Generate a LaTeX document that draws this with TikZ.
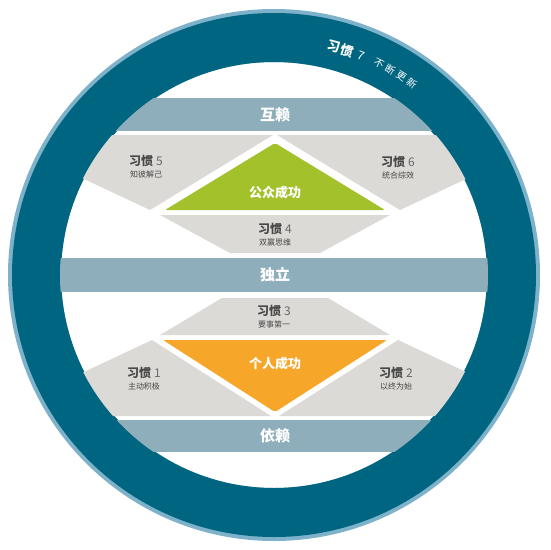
\documentclass[tikz,border=0pt]{standalone}
\usepackage{fontspec}
\usepackage{xcolor}
\usepackage{tikz}
\usetikzlibrary{positioning,calc}
\newfontfamily\cjk{Noto Sans CJK SC}
\definecolor{ringBlue}{RGB}{0,101,129}
\definecolor{rimBlue}{RGB}{126,178,202}
\definecolor{bandBlue}{RGB}{143,174,188}
\definecolor{habitGray}{RGB}{220,218,214}
\definecolor{titleGray}{RGB}{72,72,72}
\definecolor{numGray}{RGB}{105,105,105}
\definecolor{publicGreen}{RGB}{163,193,43}
\definecolor{privateOrange}{RGB}{246,167,42}
\tikzset{
  bandBox/.style={
    rectangle,
    fill=bandBlue,
    minimum width=460pt,
    text=white,
    font=\cjk\bfseries\fontsize{15}{15}\selectfont
  },
  habitShape/.style={
    fill=habitGray
  },
  habitTitle/.style={
    inner sep=0pt,
    text=titleGray,
    font=\cjk\bfseries\fontsize{12}{12}\selectfont
  },
  habitNote/.style={
    inner sep=0pt,
    text=titleGray,
    font=\cjk\fontsize{8}{8}\selectfont
  },
  successText/.style={
    text=white,
    font=\cjk\bfseries\fontsize{13}{13}\selectfont
  },
  ringChar/.style={
    inner sep=0pt,
    text=white
  }
}
\newcommand{\habitNo}[1]{习惯\hspace{3pt}{\mdseries\color{numGray}#1}}

\begin{document}
\begin{tikzpicture}[x=1pt,y=-1pt]
        \useasboundingbox (0,0) rectangle (550,550);
        \coordinate (hub) at (274,275);

        \fill[rimBlue, even odd rule] (hub) circle[radius=266pt] circle[radius=213pt];
        \fill[ringBlue, even odd rule] (hub) circle[radius=262pt] circle[radius=213pt];

        \begin{scope}
          \clip (hub) circle[radius=214pt];
          \node[bandBox, minimum height=33pt] (interdep) at (275,114.5) {互赖};
          \node[bandBox, minimum height=34pt] (indep) at (275,275) {独立};
          \node[bandBox, minimum height=32pt] (dep) at (275,436) {依赖};

          \fill[habitShape] (150,210) -- (20,149) -- (20,135) -- (273,135) -- cycle;
          \fill[habitShape] (400,210) -- (530,149) -- (530,135) -- (277,135) -- cycle;
          \fill[habitShape] (160,215) -- (390,215) -- (320,253) -- (230,253) -- cycle;
          \fill[habitShape] (222,298) -- (328,298) -- (390,335) -- (160,335) -- cycle;
          \fill[habitShape] (152,340) -- (20,402) -- (20,416) -- (271,416) -- cycle;
          \fill[habitShape] (398,340) -- (530,402) -- (530,416) -- (279,416) -- cycle;
        \end{scope}

        \fill[publicGreen, rounded corners=2pt] (165,210) -- (275,143) -- (385,210) -- cycle;
        \fill[privateOrange, rounded corners=2pt] (163,340) -- (387,340) -- (275,412) -- cycle;
        \node[successText] (public) at (275,193) {公众成功};
        \node[successText] (private) at (275,364) {个人成功};

        \node[habitTitle] (h5) at (146,161) {\habitNo{5}};
        \node[habitNote, below=3.5pt of h5] {知彼解己};
        \node[habitTitle] (h6) at (398,162) {\habitNo{6}};
        \node[habitNote, below=3.5pt of h6] {统合综效};
        \node[habitTitle] (h4) at (275,229) {\habitNo{4}};
        \node[habitNote, below=3.5pt of h4] {双赢思维};
        \node[habitTitle] (h3) at (274,311) {\habitNo{3}};
        \node[habitNote, below=3.5pt of h3] {要事第一};
        \node[habitTitle] (h1) at (144,373) {\habitNo{1}};
        \node[habitNote, below=3.5pt of h1] {主动积极};
        \node[habitTitle] (h2) at (396,373) {\habitNo{2}};
        \node[habitNote, below=3.5pt of h2] {以终为始};

        \foreach \ang/\ch in {75.3/习, 71.8/惯}
          \node[ringChar, rotate=\ang-90, font=\cjk\bfseries\fontsize{13}{13}\selectfont] at ($(hub)+(\ang:236pt)$) {\ch};
        \node[ringChar, rotate=-21.8, font=\cjk\fontsize{12}{12}\selectfont] (h7) at ($(hub)+(68.2:236pt)$) {7};
        \foreach \ang/\ch in {63.6/不, 60.5/断, 57.4/更, 54.3/新}
          \node[ringChar, rotate=\ang-90, font=\cjk\fontsize{10}{10}\selectfont] at ($(hub)+(\ang:236pt)$) {\ch};

    \end{tikzpicture}
\end{document}
